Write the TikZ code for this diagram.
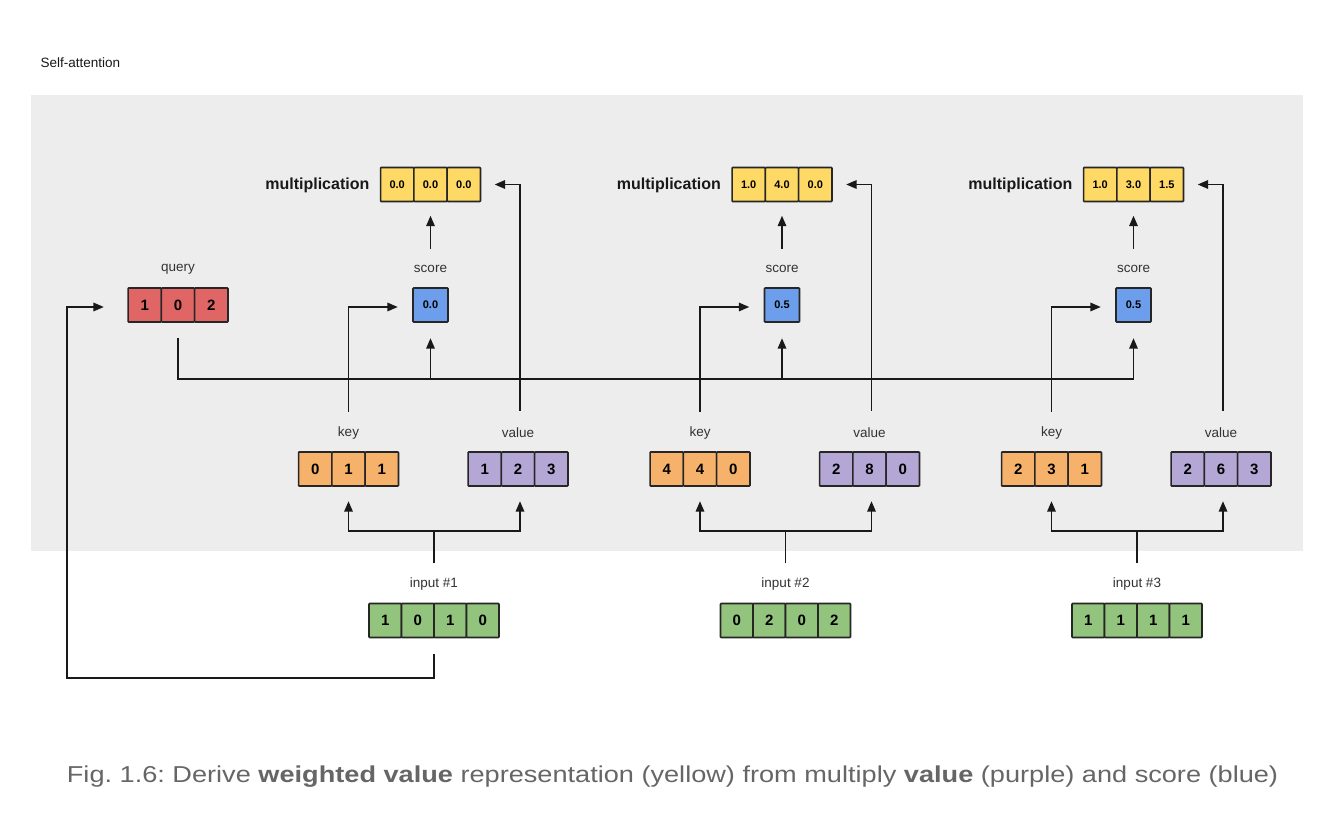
\documentclass[tikz,border=0pt]{standalone}
\usepackage{fontspec}
\setmainfont{Liberation Sans}
\usetikzlibrary{calc,arrows.meta}
\frenchspacing
\definecolor{bggray}{HTML}{EDEDED}
\definecolor{boxline}{HTML}{262626}
\definecolor{lbltext}{HTML}{333333}
\definecolor{capgray}{HTML}{666666}
\definecolor{cred}{HTML}{E06666}
\definecolor{corange}{HTML}{F6B26B}
\definecolor{cpurple}{HTML}{B4A7D6}
\definecolor{cgreen}{HTML}{93C47D}
\definecolor{cyellow}{HTML}{FFD966}
\definecolor{cblue}{HTML}{6D9EEB}
\tikzset{
  cell/.style={draw=boxline, line width=1.6pt, rounded corners=0.8pt, minimum height=34pt, inner sep=0pt,
    font=\fontsize{15}{18}\selectfont\bfseries, text=black},
  whole/.style={inner sep=0pt, minimum height=34pt},
  querycell/.style={fill=cred},
  keycell/.style={fill=corange},
  valuecell/.style={fill=cpurple},
  inputcell/.style={fill=cgreen},
  multcell/.style={fill=cyellow, font=\fontsize{11}{13}\selectfont\bfseries},
  scorecell/.style={fill=cblue, font=\fontsize{11}{13}\selectfont\bfseries},
  lbl/.style={font=\fontsize{13.5}{16}\selectfont, text=lbltext},
  multlbl/.style={font=\fontsize{16}{19}\selectfont\bfseries, text=black!90, anchor=east},
  ln/.style={line width=1.7pt, draw=black!90},
  arr/.style={line width=1.7pt, draw=black!90, -{Triangle[length=10.5pt,width=8.5pt]}},
}
% name, cx, cy, n, cell width, style, list
\newcommand\cellrow[7]{%
  \node[whole, minimum width={(#4)*(#5)*1pt}] (#1) at (#2,#3) {};
  \foreach \v [count=\i] in {#7} {
    \node[cell,#6,minimum width={(#5)*1pt}] (#1-\i) at ({#2+(\i-(#4+1)/2)*#5},#3) {\v};
  }%
}
% group no, centre x, mult list, score, key list, value list, input list
\newcommand\attgroup[7]{%
  \cellrow{m#1}{#2}{184.5}{3}{33.3}{multcell}{#3}
  \node[multlbl] (ml#1) at ($(m#1.west)+(-7.5,0.5)$) {multiplication};
  \cellrow{s#1}{#2}{305}{1}{35}{scorecell}{#4}
  \node[lbl] (sl#1) at (#2,269) {score};
  \cellrow{k#1}{#2-82}{469}{3}{33.3}{keycell}{#5}
  \node[lbl] (kl#1) at (#2-82,433) {key};
  \cellrow{v#1}{#2+87.5}{469}{3}{33.3}{valuecell}{#6}
  \node[lbl] (vl#1) at (#2+87.5,433) {value};
  \cellrow{i#1}{#2+3.5}{620.5}{4}{32.5}{inputcell}{#7}
  \node[lbl] (il#1) at (#2+3.5,584) {input \##1};
  % connectors
  \coordinate (it#1) at ($(i#1.north)+(0,-40)$);
  \coordinate (ij#1) at ($(it#1)+(0,-32)$);
  \draw[ln] (it#1) -- (ij#1);
  \draw[arr] (ij#1) -| ($(k#1.south)+(0,15)$);
  \draw[arr] (ij#1) -| ($(v#1.south)+(2,15)$);
  \draw[arr] ($(k#1.north)+(0,-40)$) |- ($(s#1.west)+(-15,2)$);
  \draw[arr] ($(v#1.north)+(2,-41)$) |- ($(m#1.east)+(14,0)$);
  \draw[arr] ($(s#1.north)+(0,-39)$) -- ($(m#1.south)+(0,14)$);
}
\begin{document}
\begin{tikzpicture}[x=1pt,y=-1pt]
  \useasboundingbox (0,0) rectangle (1342,826);
  \fill[white] (0,0) rectangle (1342,826);
  \fill[bggray] (31,95) rectangle (1303,551);
  \node[lbl, anchor=west, text=black!90] (title) at (37,62.5) {Self-attention};

  \cellrow{q}{178}{305}{3}{33.3}{querycell}{1,0,2}
  \node[lbl] (ql) at (178,269) {query};

  \attgroup{1}{430.5}{0.0,0.0,0.0}{0.0}{0,1,1}{1,2,3}{1,0,1,0}
  \attgroup{2}{782}{1.0,4.0,0.0}{0.5}{4,4,0}{2,8,0}{0,2,0,2}
  \attgroup{3}{1133.5}{1.0,3.0,1.5}{0.5}{2,3,1}{2,6,3}{1,1,1,1}

  % query bus to the scores
  \coordinate (bus) at (0,379);
  \draw[ln] ($(q.south)+(0,16)$) |- (s3.south |- bus);
  \foreach \g in {1,2,3} {
    \draw[arr] (s\g.south |- bus) -- ($(s\g.south)+(0,16)$);
  }
  % input #1 back to the query
  \coordinate (ret) at (67,678);
  \draw[arr] ($(i1.south)+(0,16)$) |- (ret) |- ($(q.west)+(-24,2)$);

  \node[font=\fontsize{23}{27}\selectfont, text=capgray, inner sep=0pt] (caption) at (672.5,777)
    {\scalebox{1.18}[1]{Fig. 1.6: Derive \textbf{weighted value} representation (yellow) from multiply \textbf{value} (purple) and score (blue)}};
\end{tikzpicture}
\end{document}
